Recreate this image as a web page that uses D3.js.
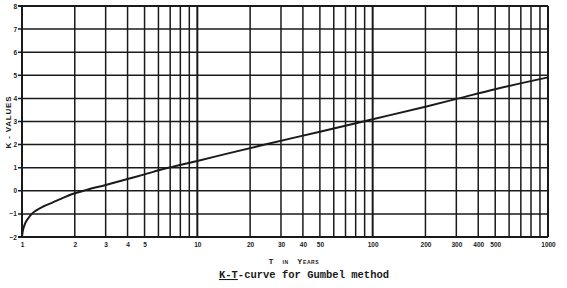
<!DOCTYPE html>
<html><head><meta charset="utf-8">
<script src="https://cdn.jsdelivr.net/npm/d3@7"></script>
<style>body{margin:0;background:#fff}svg{display:block}</style>
</head><body>
<svg id="c" width="567" height="288"></svg>
<script>
// Data
const curveT = [1.0, 1.003, 1.01, 1.027, 1.05, 1.086, 1.136, 1.2, 1.32, 1.5, 1.65, 1.96, 2.34, 3, 4, 5, 6.4, 10, 15, 23, 50, 100, 200, 309, 500, 1000];
const curveK = [-2.0, -1.9, -1.75, -1.54, -1.36, -1.19, -1.0, -0.86, -0.68, -0.5, -0.36, -0.13, 0.04, 0.25, 0.51, 0.71, 0.94, 1.29, 1.62, 1.96, 2.56, 3.1, 3.64, 4.0, 4.4, 4.91];
const xGrid = [1,2,3,4,5,6,7,8,9,10,20,30,40,50,60,70,80,90,100,200,300,400,500,600,700,800,900,1000];
const xTickLabels = [1,2,3,4,5,10,20,30,40,50,100,200,300,400,500,1000];
const yTicks = [-2,-1,0,1,2,3,4,5,6,7,8];
const yTitle = "K - VALUES";
const xTitle = "T in Years";
const caption = "K-T-curve for Gumbel method";

const svg = d3.select("#c");
const x = d3.scaleLog().domain([1,1000]).range([22,548]);
const y = d3.scaleLinear().domain([-2,8]).range([237,6]);
const ink = "#1a1a1a";

// grid
svg.append("g").selectAll("line").data(xGrid).join("line")
  .attr("x1",d=>x(d)).attr("x2",d=>x(d)).attr("y1",y(8)).attr("y2",y(-2))
  .attr("stroke",ink).attr("stroke-width",d=>[1,10,100,1000].includes(d)?2:1.5);
svg.append("g").selectAll("line").data(yTicks).join("line")
  .attr("x1",x(1)-4).attr("x2",x(1000)).attr("y1",d=>y(d)).attr("y2",d=>y(d))
  .attr("stroke",ink).attr("stroke-width",d=>(d===8||d===-2)?2:1.5);

// y axis labels
const yAxis = d3.axisLeft(y).tickValues(yTicks).tickSize(0).tickPadding(5).tickFormat(d3.format("d"));
const ga = svg.append("g").attr("transform",`translate(${x(1)},0)`).call(yAxis);
ga.select(".domain").remove();
ga.selectAll("text").attr("font-family","Liberation Sans, sans-serif").attr("font-size",6.5).attr("font-weight","bold").attr("fill",ink);

// x axis labels
const xAxis = d3.axisBottom(x).tickValues(xTickLabels).tickSize(0).tickPadding(5).tickFormat(d3.format("d"));
const gx = svg.append("g").attr("transform",`translate(0,${y(-2)})`).call(xAxis);
gx.select(".domain").remove();
gx.selectAll("text").attr("font-family","Liberation Sans, sans-serif").attr("font-size",6.5).attr("font-weight","bold").attr("fill",ink);

// curve
const line = d3.line().x((d,i)=>x(curveT[i])).y(d=>y(d)).curve(d3.curveMonotoneX);
svg.append("path").datum(curveK).attr("d",line).attr("fill","none").attr("stroke",ink).attr("stroke-width",2);

// titles
svg.append("text").attr("transform","translate(11,122) rotate(-90)").attr("text-anchor","middle")
  .attr("font-family","Liberation Sans, sans-serif").attr("font-size",8).attr("font-weight","bold")
  .attr("letter-spacing",0.8).attr("fill",ink).text(yTitle);

const xt = svg.append("text").attr("x",294).attr("y",264).attr("text-anchor","middle")
  .attr("font-family","Liberation Sans, sans-serif").attr("font-size",7.5).attr("font-weight","bold")
  .attr("letter-spacing",0.6).attr("fill",ink).style("font-variant","small-caps").text(xTitle);
xt.attr("word-spacing",6);

const cap = svg.append("text").attr("x",304).attr("y",278).attr("text-anchor","middle")
  .attr("font-family","Liberation Mono, monospace").attr("font-size",10.5).attr("font-weight","bold")
  .attr("fill",ink);
cap.append("tspan").attr("text-decoration","underline").text(caption.slice(0,3));
cap.append("tspan").text(caption.slice(3));
</script>
</body></html>
